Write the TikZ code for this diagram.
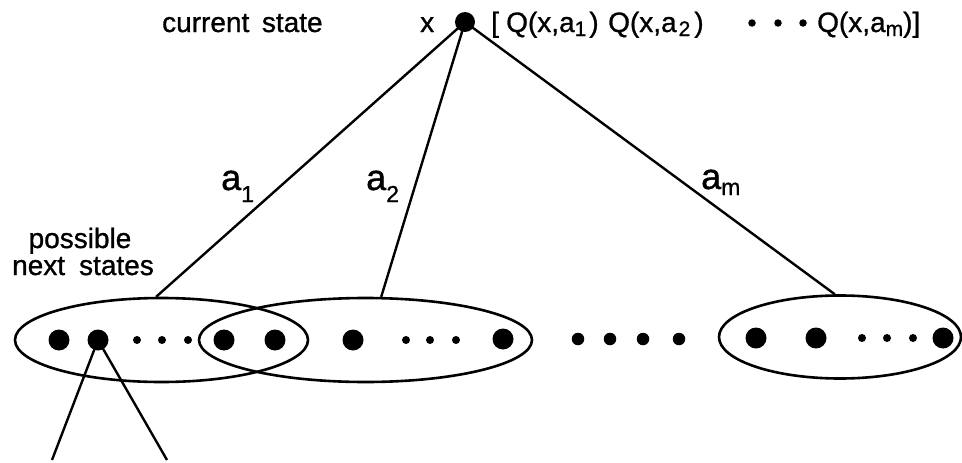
\documentclass[tikz,border=0pt]{standalone}
\usepackage{fontspec}
\setmainfont{Liberation Sans}[FakeBold=1]
\usepackage{tikz}
\usetikzlibrary{shapes.geometric}
\tikzstyle{stateset} = [ellipse, draw, line width=2.6pt, inner sep=0pt]
\tikzstyle{bigdot} = [circle, fill, inner sep=0pt, minimum size=21pt]
\tikzstyle{middot} = [circle, fill, inner sep=0pt, minimum size=12.5pt]
\tikzstyle{smalldot} = [circle, fill, inner sep=0pt, minimum size=8pt]
\tikzstyle{txt} = [font=\fontsize{28}{28}\selectfont, inner sep=0pt, anchor=base west]
\tikzstyle{actlbl} = [font=\fontsize{36}{36}\selectfont, inner sep=0pt, anchor=base west]
\tikzstyle{branch} = [line width=2.4pt]
\newcommand{\qsub}[1]{\raisebox{-4pt}{\fontsize{21}{21}\selectfont #1}}
\newcommand{\asub}[2]{\raisebox{-#1}{\fontsize{23}{23}\selectfont #2}}

\begin{document}
\begin{tikzpicture}[x=1pt, y=-1pt]
\useasboundingbox (0,0) rectangle (962,463);

% Current state and its Q values
\node[txt] (curlbl) at (162,32) {current\hspace{0.45em}state};
\node[txt] (xlbl) at (420,32) {x};
\node[bigdot, minimum size=20pt] (root) at (465,22) {};
\node[txt] (brk) at (491,32) {[};
\node[txt] (q1) at (506,32) {Q(x,a\qsub{1}\hspace{3pt})};
\node[txt] (q2) at (608,32) {Q(x,a\hspace{2pt}\qsub{2}\hspace{4pt})};
\node[smalldot, minimum size=7.5pt] (qd1) at (752,23) {};
\node[smalldot, minimum size=7.5pt] (qd2) at (778,23) {};
\node[smalldot, minimum size=7.5pt] (qd3) at (803,23) {};
\node[txt] (qm) at (817,32) {Q(x,a\qsub{m})]};

% Sets of next states
\node[stateset, minimum width=293pt, minimum height=84pt] (ell1) at (161.5,340) {};
\node[stateset, minimum width=333pt, minimum height=84pt] (ell2) at (365.5,340) {};
\node[stateset, minimum width=242pt, minimum height=83pt] (ell3) at (840,337) {};

% States in the first set
\node[bigdot] (s1a) at (59,340) {};
\node[bigdot] (s1b) at (98,340) {};
\node[smalldot] (s1c) at (137,340) {};
\node[smalldot] (s1d) at (162,340) {};
\node[smalldot] (s1e) at (188,340) {};
\node[bigdot] (s1f) at (224,340) {};
\node[bigdot] (s1g) at (275,340) {};

% States in the second set
\node[bigdot] (s2a) at (353,340) {};
\node[smalldot] (s2b) at (406,340) {};
\node[smalldot] (s2c) at (430,340) {};
\node[smalldot] (s2d) at (456,340) {};
\node[bigdot] (s2e) at (503,339) {};

% Gap between the sets
\node[middot] (g1) at (578,339) {};
\node[middot] (g2) at (610,339) {};
\node[middot] (g3) at (643,339) {};
\node[middot] (g4) at (679,339) {};

% States in the last set
\node[bigdot] (s3a) at (756,338) {};
\node[bigdot] (s3b) at (816,338) {};
\node[smalldot] (s3c) at (862,338) {};
\node[smalldot] (s3d) at (887,338) {};
\node[smalldot] (s3e) at (913,338) {};
\node[bigdot] (s3f) at (943,338) {};

% Actions
\draw[branch] (root.center) -- (ell1.97);
\draw[branch] (root.center) -- (ell2.70);
\draw[branch] (root.center) -- (ell3.97);
\node[actlbl] (a1) at (221,190) {a\asub{12pt}{1}};
\node[actlbl] (a2) at (366,190) {a\asub{12pt}{2}};
\node[actlbl] (am) at (701,189) {a\asub{6pt}{m}};

% Branching below one next state
\coordinate (leafl) at (52,460);
\coordinate (leafr) at (167,460);
\draw[branch] (s1b.center) -- (leafl);
\draw[branch] (s1b.center) -- (leafr);

% Annotations
\node[txt, anchor=base] (poss) at (80,248) {possible};
\node[txt, anchor=base] (nxt) at (83,275) {next\hspace{0.5em}states};

\end{tikzpicture}
\end{document}
